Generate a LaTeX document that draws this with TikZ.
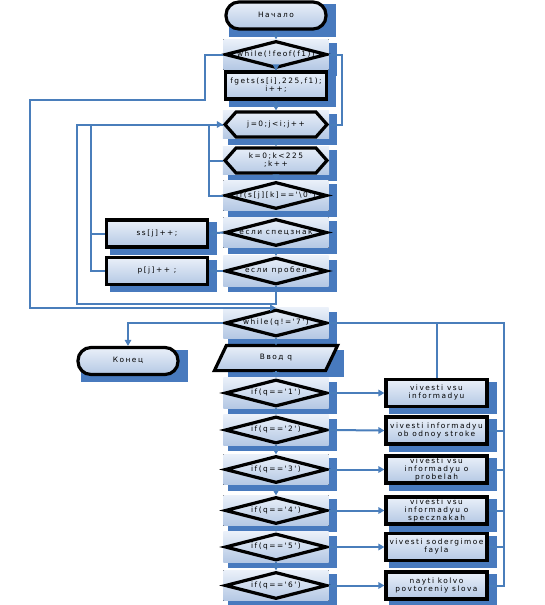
\documentclass[tikz,border=0pt]{standalone}
\usepackage{fontspec}
\newfontfamily\flowfont[LetterSpace=20, Ligatures=TeXOff]{DejaVu Sans}
\usetikzlibrary{shapes.geometric, shapes.symbols, arrows.meta, backgrounds}
\definecolor{linkblue}{RGB}{74, 126, 187}
\definecolor{shadeblue}{RGB}{72, 122, 190}
\definecolor{gradtop}{RGB}{234, 240, 249}
\definecolor{gradbot}{RGB}{180, 200, 228}
\newcommand{\ctxt}[1]{\makebox[0pt]{\begin{tabular}{@{}c@{}}#1\end{tabular}}}
\tikzset{
  flowshape/.style  = {draw=black, line width=3.2pt, inner sep=0pt, font=\flowfont\fontsize{7.4}{8}\selectfont},
  gradfill/.style   = {top color=gradtop, bottom color=gradbot},
  shadowfill/.style = {fill=shadeblue, draw=none},
  term/.style       = {flowshape, gradfill, rectangle, rounded corners=13pt, minimum width=100pt, minimum height=27pt},
  proc/.style       = {flowshape, gradfill, rectangle, minimum width=101pt, minimum height=27pt},
  dec/.style        = {flowshape, diamond, minimum width=102pt, minimum height=27pt},
  prep/.style       = {flowshape, signal, signal to=east and west, signal pointer angle=97, minimum width=102pt, minimum height=25pt},
  inout/.style      = {flowshape, draw=none, rectangle, minimum width=108pt, minimum height=22pt},
  inoutline/.style  = {draw=black, line width=3.2pt, gradfill},
  link/.style       = {draw=linkblue, line width=2pt},
  flow/.style       = {link, -{Triangle[length=6pt, width=6.5pt]}},
}
\begin{document}
\begin{tikzpicture}[x=1pt, y=-1pt]
\useasboundingbox (0,0) rectangle (545,605);

% ---- file reading part ----
\node (start)   [term] at (276, 15.5)  {\ctxt{Начало}};
\node (feof)    [dec]  at (276, 54.5)  {\ctxt{while(!feof(f1))}};
\node (fgets)   [proc] at (276, 85.5)  {\ctxt{fgets(s[i],225,f1);\\i++;}};
\node (jloop)   [prep] at (276, 124.5) {\ctxt{j=0;j<i;j++}};
\node (kloop)   [prep] at (276, 160.5) {\ctxt{k=0;k<225\\;k++}};
\node (ifnull)  [dec]  at (276, 195.5) {\ctxt{if(s[j][k]=='\textbackslash0')}};
\node (ifspec)  [dec]  at (276, 232.5) {\ctxt{если спецзнак}};
\node (ifspace) [dec]  at (276, 271)   {\ctxt{если пробел}};
\node (ssinc)   [proc] at (157, 233.5) {\ctxt{ss[j]++;}};
\node (pinc)    [proc] at (157, 271)   {\ctxt{p[j]++ ;}};

% ---- menu part ----
\node (whq)    [dec]   at (276, 323)   {\ctxt{while(q!='7')}};
\node (finish) [term]  at (128, 361)   {\ctxt{Конец}};
\node (inq)    [inout] at (276, 358)   {\ctxt{Ввод q}};
\node (q1)     [dec]   at (276, 393)   {\ctxt{if(q=='1')}};
\node (q2)     [dec]   at (276, 430)   {\ctxt{if(q=='2')}};
\node (q3)     [dec]   at (276, 469.5) {\ctxt{if(q=='3')}};
\node (q4)     [dec]   at (276, 510.5) {\ctxt{if(q=='4')}};
\node (q5)     [dec]   at (276, 547)   {\ctxt{if(q=='5')}};
\node (q6)     [dec]   at (276, 585.5) {\ctxt{if(q=='6')}};
\node (out1)   [proc]  at (436.5, 393)   {\ctxt{vivesti vsu\\informadyu}};
\node (out2)   [proc]  at (436.5, 430.5) {\ctxt{vivesti informadyu\\ob odnoy stroke}};
\node (out3)   [proc]  at (436.5, 469.5) {\ctxt{vivesti vsu\\informadyu o\\probelah}};
\node (out4)   [proc]  at (436.5, 510.5) {\ctxt{vivesti vsu\\informadyu o\\specznakah}};
\node (out5)   [proc]  at (436.5, 547)   {\ctxt{vivesti sodergimoe\\fayla}};
\node (out6)   [proc]  at (436.5, 585.5) {\ctxt{nayti kolvo\\povtoreniy slova}};

\coordinate (leftrail) at (30, 100);

% ---- shadows and backdrops ----
\begin{scope}[on background layer]
    \foreach \n in {feof, jloop, kloop, ifnull, ifspec, ifspace, whq, q1, q2, q3, q4, q5, q6} {
        \fill [shadowfill] ([shift={(5,4)}]\n.west |- \n.north) rectangle ([shift={(8,6)}]\n.east |- \n.south);
        \fill [gradfill] (\n.west |- \n.north) rectangle (\n.east |- \n.south);
    }
    \foreach \n in {start, fgets, ssinc, pinc, finish, out1, out2, out3, out4, out5, out6}
        \fill [shadowfill] ([shift={(5,4)}]\n.north west) rectangle ([shift={(8,6)}]\n.south east);
    \fill [shadowfill] ([shift={(8,5)}]inq.north west) rectangle ([shift={(12,6)}]inq.south east);
    \draw [inoutline] ([xshift=-6pt]inq.south west) -- ([xshift=-6pt]inq.south east)
        -- ([xshift=6pt]inq.north east) -- ([xshift=6pt]inq.north west) -- cycle;
\end{scope}

% ---- main column ----
\draw [flow] (start) -- (feof);
\draw [flow] (feof) -- (fgets);
\draw [flow] (fgets) -- (jloop);
\draw [flow] (jloop) -- (kloop);
\draw [flow] (kloop) -- (ifnull);
\draw [flow] (ifnull) -- (ifspec);
\draw [flow] (ifspec) -- (ifspace);
\draw [flow] (ifspec.west) -- (ssinc.east);
\draw [flow] (ifspace.west) -- (pinc.east);

% ---- loops back ----
\draw [link] (feof.east) -- ++(13,0) |- (jloop.east);
\draw [flow] (feof.west) -- ++(-18,0) |- (leftrail) |- (whq.north);
\draw [flow] (ifspace.south) -- ++(0,18) -| ([xshift=-146pt]jloop.west) -- (jloop.west);
\draw [link] (pinc.west) -| ([xshift=-14pt]ssinc.west) |- (jloop.west);
\draw [link] (ssinc.west) -- ++(-14,0);
\draw [link] (ifnull.west) -| ([xshift=-14pt]jloop.west);
\draw [link] (kloop.west) -- ++(-14,0);

% ---- menu ----
\draw [flow] (whq.west) -| (finish.north);
\draw [flow] (whq) -- (inq);
\draw [flow] (inq) -- (q1);
\foreach \a/\b in {q1/q2, q2/q3, q3/q4, q4/q5, q5/q6}
    \draw [flow] (\a) -- (\b);
\foreach \i in {1,...,6}
    \draw [flow] (q\i.east) -- (out\i.west);
\draw [link] (out1.north) -- (out1.north |- whq.east);
\draw [link] (out6.east) -- ++(15,0) |- (whq.east);
\foreach \i in {2,...,5}
    \draw [link] (out\i.east) -- ++(15,0);

\end{tikzpicture}
\end{document}
